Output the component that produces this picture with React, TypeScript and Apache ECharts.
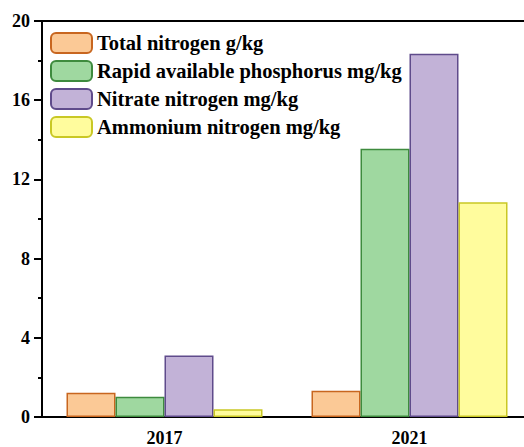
import React, { useEffect, useRef } from "react";
import * as echarts from "echarts";

const categories = ["2017", "2021"];
const seriesNames = [
  "Total nitrogen g/kg",
  "Rapid available phosphorus mg/kg",
  "Nitrate nitrogen mg/kg",
  "Ammonium nitrogen mg/kg",
];
const totalNitrogen = [1.22, 1.32];
const rapidPhosphorus = [1.02, 13.55];
const nitrateNitrogen = [3.11, 18.34];
const ammoniumNitrogen = [0.39, 10.85];
const yTicks = [0, 4, 8, 12, 16, 20];

const fills = ["#FBC996", "#9FD8A0", "#C2B2D7", "#FFFC9D"];
const borders = ["#C8661F", "#3E8B3E", "#5F4B8B", "#C9C825"];

const FONT = "Liberation Serif";

export default function App() {
  const ref = useRef<HTMLDivElement>(null);
  useEffect(() => {
    if (!ref.current) return;
    const chart = echarts.init(ref.current, undefined, { renderer: "svg" });
    const data = [totalNitrogen, rapidPhosphorus, nitrateNitrogen, ammoniumNitrogen];
    chart.setOption({
      animation: false,
      backgroundColor: "#ffffff",
      grid: { left: 42, right: 0, top: 21, bottom: 447 - 418 },
      legend: {
        orient: "vertical",
        left: 45,
        top: 27,
        itemWidth: 41,
        itemHeight: 20,
        itemGap: 6,
        data: seriesNames,
        textStyle: { fontFamily: FONT, fontWeight: "bold", fontSize: 20.5, color: "#000", lineHeight: 20 },
      },
      xAxis: [
        {
          type: "category",
          data: categories,
          position: "bottom",
          axisLine: { lineStyle: { color: "#000", width: 2 } },
          axisTick: { alignWithLabel: true, length: 5, lineStyle: { color: "#000", width: 2 } },
          axisLabel: { fontFamily: FONT, fontWeight: "bold", fontSize: 18, color: "#000", margin: 12 },
        },
        {
          type: "category",
          data: categories,
          position: "bottom",
          axisLine: { show: false },
          axisTick: { inside: true, length: 3, lineStyle: { color: "#000", width: 2 } },
          axisLabel: { show: false },
        },
        {
          type: "category",
          data: categories,
          position: "top",
          axisLine: { lineStyle: { color: "#000", width: 2 } },
          axisTick: { show: false },
          axisLabel: { show: false },
        },
      ],
      yAxis: {
        type: "value",
        min: yTicks[0],
        max: yTicks[yTicks.length - 1],
        interval: 4,
        axisLine: { show: true, lineStyle: { color: "#000", width: 2 } },
        axisTick: { show: true, length: 8, lineStyle: { color: "#000", width: 2 } },
        minorTick: { show: true, splitNumber: 2, length: 4, lineStyle: { color: "#000", width: 2 } },
        splitLine: { show: false },
        axisLabel: { fontFamily: FONT, fontWeight: "bold", fontSize: 18, color: "#000", margin: 12 },
      },
      series: seriesNames.map((name, i) => ({
        name,
        type: "bar",
        xAxisIndex: 0,
        data: data[i],
        barGap: "0%",
        barCategoryGap: "20%",
        itemStyle: { color: fills[i], borderColor: borders[i], borderWidth: 1.5 },
      })),
    });
    return () => chart.dispose();
  }, []);
  return (
    <div
      ref={ref}
      style={{ position: "absolute", left: 0, top: 0, width: 532, height: 447 }}
    />
  );
}
